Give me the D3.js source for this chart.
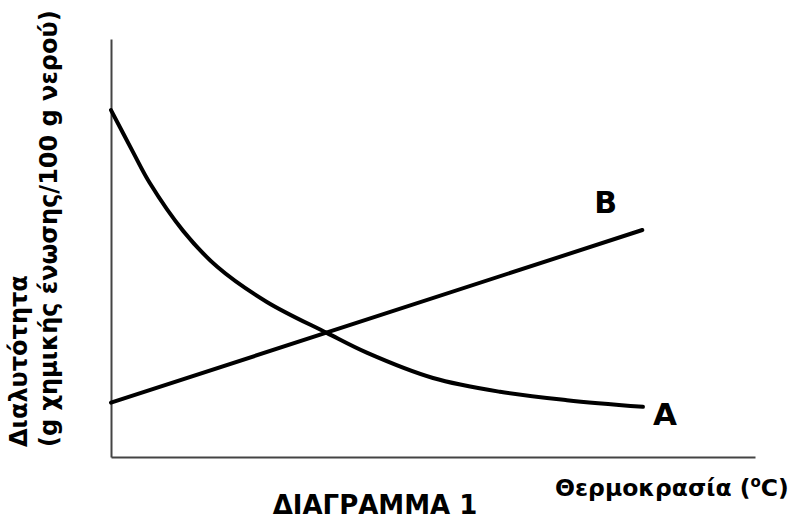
<!DOCTYPE html>
<html>
<head>
<meta charset="utf-8">
<script src="https://cdn.jsdelivr.net/npm/d3@7"></script>
<style>
  body { margin: 0; background: #fff; }
  svg { display: block; }
</style>
</head>
<body>
<div id="chart"></div>
<script>
const width = 791;
const height = 520;

// curve A (solubility falls with temperature)
const tempA = [0, 3.4, 6, 11.2, 16.5, 24.2, 33.5, 39.8, 50, 60.4, 70.8, 82.6];
const solA = [83, 73, 65.6, 54.1, 45.5, 37.1, 29.7, 24.9, 18.9, 15.6, 13.6, 12];
// curve B (straight rise)
const tempB = [0, 82.5];
const solB = [13, 54.3];

const seriesNames = ["A", "B"];
const yLabelLines = ["Διαλυτότητα", "(g χημικής ένωσης/100 g νερού)"];
const xLabel = "Θερμοκρασία (";
const title = "ΔΙΑΓΡΑΜΜΑ 1";

const font = "'DejaVu Sans', Verdana, sans-serif";

const x = d3.scaleLinear().domain([0, 100]).range([111, 755]);
const y = d3.scaleLinear().domain([0, 100]).range([457, 39]);

const svg = d3.select("#chart").append("svg")
  .attr("width", width)
  .attr("height", height);

// axes: bare lines, no ticks
svg.append("g")
  .attr("transform", `translate(${x(0)},0)`)
  .call(d3.axisLeft(y).ticks(0).tickSizeOuter(0))
  .call(g => g.select(".domain").attr("stroke", "#444").attr("stroke-width", 2));

svg.append("g")
  .attr("transform", `translate(0,${y(0)})`)
  .call(d3.axisBottom(x).ticks(0).tickSizeOuter(0))
  .call(g => g.select(".domain").attr("stroke", "#444").attr("stroke-width", 2));

const line = d3.line()
  .x(d => x(d[0]))
  .y(d => y(d[1]))
  .curve(d3.curveCatmullRom.alpha(0.5));

const dataA = tempA.map((t, i) => [t, solA[i]]);
const dataB = tempB.map((t, i) => [t, solB[i]]);

svg.selectAll("path.series")
  .data([dataA, dataB])
  .join("path")
  .attr("class", "series")
  .attr("d", line)
  .attr("fill", "none")
  .attr("stroke", "#000")
  .attr("stroke-width", 4)
  .attr("stroke-linecap", "round");

// series letters
svg.append("text")
  .attr("x", x(tempA[tempA.length - 1]) + 10)
  .attr("y", y(solA[solA.length - 1]) + 18)
  .style("font", `bold 31px ${font}`)
  .text(seriesNames[0]);

svg.append("text")
  .attr("x", x(tempB[1]) - 48)
  .attr("y", y(solB[1]) - 17)
  .style("font", `bold 30px ${font}`)
  .text(seriesNames[1]);

// y label, rotated
const yl = svg.append("text")
  .attr("transform", "translate(0,447) rotate(-90)")
  .style("font", `bold 24px ${font}`)
  .attr("fill", "#000");
yl.selectAll("tspan")
  .data(yLabelLines)
  .join("tspan")
  .attr("x", 0)
  .attr("y", (d, i) => 27 + i * 30)
  .text(d => d);

// x label with superscript o
const xl = svg.append("text")
  .attr("x", 555)
  .attr("y", 496)
  .style("font", `bold 23.5px ${font}`);
xl.append("tspan").text(xLabel);
xl.append("tspan").attr("dy", -9).style("font-size", "15px").text("o");
xl.append("tspan").attr("dy", 9).text("C)");

svg.append("text")
  .attr("x", 375)
  .attr("y", 514)
  .attr("text-anchor", "middle")
  .style("font", `bold 26px ${font}`)
  .text(title);
</script>
</body>
</html>
